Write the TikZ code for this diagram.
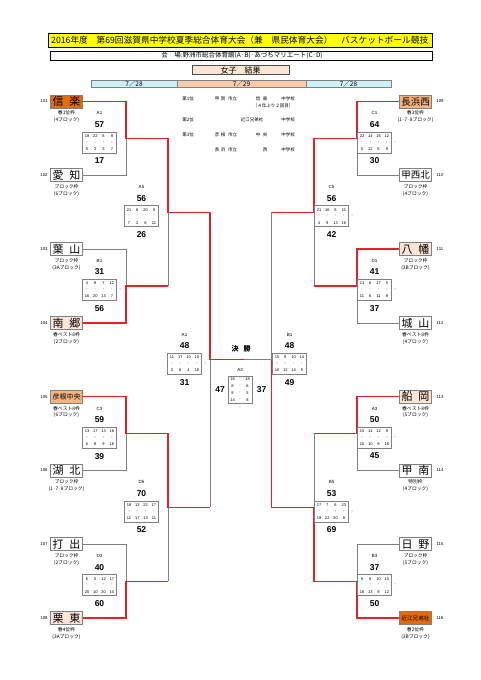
\documentclass[tikz,border=0pt]{standalone}
\usepackage{fontspec}
\setmainfont{Noto Sans CJK JP}
\newfontfamily\numfont{Liberation Sans}
\definecolor{hdryellow}{RGB}{255,255,0}
\definecolor{darkor}{RGB}{226,107,10}
\definecolor{midor}{RGB}{247,180,128}
\definecolor{paleor}{RGB}{252,228,214}
\definecolor{datecyan}{RGB}{204,240,248}
\definecolor{dateor}{RGB}{248,203,173}
\definecolor{lnred}{RGB}{228,32,40}
\definecolor{lngray}{RGB}{128,128,128}
\tikzset{
  tb/.style={draw=lngray, line width=0.9pt, minimum width=32pt, minimum height=13pt, inner sep=0pt, font=\fontsize{11}{11}\selectfont},
  lbl/.style={font=\fontsize{4.5}{5}\selectfont\numfont, inner sep=0pt},
  score/.style={font=\fontsize{8.5}{9}\selectfont\numfont\bfseries, inner sep=0pt},
  qnum/.style={font=\fontsize{4}{4}\selectfont\numfont, inner sep=0pt},
  subl/.style={font=\fontsize{4.8}{5}\selectfont, inner sep=0pt},
  tnum/.style={font=\fontsize{4.3}{5}\selectfont\numfont, inner sep=0pt},
  rk/.style={font=\fontsize{4.5}{5}\selectfont, inner sep=0pt},
  gl/.style={draw=lngray, line width=0.8pt},
  rl/.style={draw=lnred, line width=1.3pt},
  qbox/.style={draw=lngray, line width=0.5pt},
  datecell/.style={draw=lngray, line width=0.5pt, minimum height=7.3pt, inner sep=0pt, font=\fontsize{6.5}{7}\selectfont}
}
\newcommand\team[9]{%
  \node[tb, fill=#4] (#1) at (#2,#3) {#5};
  \node[tnum] (#1-n) at (#7,#3) {#6};
  \node[subl] (#1-s1) at (#2,#3+11.5) {#8};
  \node[subl] (#1-s2) at (#2,#3+18.7) {#9};
}
\newcommand\mblock[8]{%
  \node[lbl] (#1-l) at (#2,#3-25) {#4};
  \node[score] (#1-t) at (#2,#3-14) {#5};
  \node[score] (#1-b) at (#2,#3+22.5) {#6};
  \draw[qbox] (#2-17,#3-6.5) rectangle (#2+17,#3+14.5);
  \foreach \v [count=\i] in {#7} {\node[qnum] (#1-q\i) at ({#2-17+4.5+8.3*(\i-1)},#3-2.5) {\v};}
  \foreach \v [count=\i] in {#8} {\node[qnum] (#1-r\i) at ({#2-17+4.5+8.3*(\i-1)},#3+10.5) {\v};}
  \foreach \i in {1,...,5} {\node[qnum] (#1-d\i) at ({#2-17+4.5+8.3*(\i-1)},#3+4) {-};}
}
\begin{document}
\begin{tikzpicture}[x=1pt,y=-1pt]
\fill[white] (0,0) rectangle (481,680);
\useasboundingbox (0,0) rectangle (481,680);

% header
\node[draw=black, fill=hdryellow, line width=0.8pt, minimum width=384pt, minimum height=14pt, inner sep=0pt] (hdr) at (240.5,40) {};
\node[anchor=west, inner sep=0pt] (hdrt) at (51,40) {\resizebox{377pt}{!}{2016年度　第69回滋賀県中学校夏季総合体育大会（兼　県民体育大会）　バスケットボール競技}};
\node[draw=black, fill=white, line width=0.6pt, minimum width=382pt, minimum height=9pt, inner sep=0pt] (venue) at (241,55.5) {};
\node[inner sep=0pt, font=\fontsize{6.5}{7}\selectfont] (venuet) at (242,55.5) {会　場:野洲市総合体育館(A·B)·あづちマリエート(C·D)};
\node[draw=lngray!60!black, fill=paleor, line width=0.6pt, minimum width=97pt, minimum height=8.5pt, inner sep=0pt, font=\fontsize{8}{8}\selectfont] (kekka) at (240.5,70) {女子　結果};
\node[datecell, fill=datecyan, minimum width=86pt] (d1) at (134,83.6) {7／28};
\node[datecell, fill=dateor, minimum width=129pt] (d2) at (241.5,83.6) {7／29};
\node[datecell, fill=datecyan, minimum width=85pt] (d3) at (348.5,83.6) {7／28};

% rankings
\node[rk] (r1a) at (188,99) {第1位};
\node[rk] (r1b) at (220,99) {甲\hspace{1.5pt}賀};
\node[rk] (r1c) at (232.5,99) {市立};
\node[rk] (r1d) at (261.5,99) {信\hspace{2.5pt}楽};
\node[rk] (r1e) at (288,99) {中学校};
\node[rk] (r1f) at (273,106) {（４年ぶり２回目）};
\node[rk] (r2a) at (188,120) {第2位};
\node[rk] (r2b) at (252,120) {近江兄弟社};
\node[rk] (r2e) at (288,120) {中学校};
\node[rk] (r3a) at (188,135) {第3位};
\node[rk] (r3b) at (220,135) {彦\hspace{1.5pt}根};
\node[rk] (r3c) at (232.5,135) {市立};
\node[rk] (r3d) at (261.5,135) {中\hspace{2.5pt}央};
\node[rk] (r3e) at (288,135) {中学校};
\node[rk] (r4b) at (220,150) {長\hspace{1.5pt}浜};
\node[rk] (r4c) at (232.5,150) {市立};
\node[rk] (r4d) at (265,150) {西};
\node[rk] (r4e) at (288,150) {中学校};

% teams left
\team{t101}{66.5}{101.5}{darkor}{信\hspace{6pt}楽}{101}{44}{春1位枠}{(4ブロック)}
\team{t102}{66.5}{175.3}{white}{愛\hspace{6pt}知}{102}{44}{ブロック枠}{(6ブロック)}
\team{t103}{66.5}{249.1}{white}{葉\hspace{6pt}山}{103}{44}{ブロック枠}{(3Aブロック)}
\team{t104}{66.5}{322.9}{paleor}{南\hspace{6pt}郷}{104}{44}{春ベスト8枠}{(2ブロック)}
\team{t105}{66.5}{396.7}{midor}{\fontsize{7}{7}\selectfont 彦根中央}{105}{44}{春ベスト8枠}{(6ブロック)}
\team{t106}{66.5}{470.5}{white}{湖\hspace{6pt}北}{106}{44}{ブロック枠}{(1·7·8ブロック)}
\team{t107}{66.5}{544.3}{white}{打\hspace{6pt}出}{107}{44}{ブロック枠}{(2ブロック)}
\team{t108}{66.5}{618.1}{paleor}{栗\hspace{6pt}東}{108}{44}{春4位枠}{(3Aブロック)}
% teams right
\team{t109}{415.5}{101.5}{midor}{\fontsize{9.5}{10}\selectfont 長浜西}{109}{440}{春3位枠}{(1·7·8ブロック)}
\team{t110}{415.5}{175.3}{white}{\fontsize{9.5}{10}\selectfont 甲西北}{110}{440}{ブロック枠}{(4ブロック)}
\team{t111}{415.5}{249.1}{paleor}{八\hspace{6pt}幡}{111}{440}{ブロック枠}{(3Bブロック)}
\team{t112}{415.5}{322.9}{white}{城\hspace{6pt}山}{112}{440}{春ベスト8枠}{(4ブロック)}
\team{t113}{415.5}{396.7}{paleor}{船\hspace{6pt}岡}{113}{440}{春ベスト8枠}{(5ブロック)}
\team{t114}{415.5}{470.5}{white}{甲\hspace{6pt}南}{114}{440}{特別枠}{(4ブロック)}
\team{t115}{415.5}{544.3}{white}{日\hspace{6pt}野}{115}{440}{ブロック枠}{(5ブロック)}
\team{t116}{415.5}{618.1}{darkor}{\fontsize{5.6}{6}\selectfont 近江兄弟社}{116}{440}{春2位枠}{(3Bブロック)}

% junctions
\coordinate (ja1) at (126,138.4); \coordinate (ja1o) at (168,138.4);
\coordinate (jb1) at (126,286); \coordinate (jb1o) at (168,286);
\coordinate (jc3) at (126,433.6); \coordinate (jc3o) at (168,433.6);
\coordinate (jd3) at (126,581.2); \coordinate (jd3o) at (168,581.2);
\coordinate (ja5) at (168,212.2); \coordinate (ja5o) at (210,212.2);
\coordinate (jd5) at (168,507.4); \coordinate (jd5o) at (210,507.4);
\coordinate (jfl) at (210,359.8); \coordinate (jfm) at (244,359.8); \coordinate (jfr) at (271.5,359.8);
\coordinate (jc1) at (357,138.4); \coordinate (jc1o) at (314,138.4);
\coordinate (jd1) at (357,286); \coordinate (jd1o) at (314,286);
\coordinate (ja3) at (357,433.6); \coordinate (ja3o) at (314,433.6);
\coordinate (jb3) at (357,581.2); \coordinate (jb3o) at (314,581.2);
\coordinate (jc5) at (314,212.2); \coordinate (jc5o) at (271.5,212.2);
\coordinate (jb5) at (314,507.4); \coordinate (jb5o) at (271.5,507.4);

% gray connectors
\draw[gl] (t102.east) -| (ja1);
\draw[gl] (t103.east) -| (jb1);
\draw[gl] (t106.east) -| (jc3);
\draw[gl] (t107.east) -| (jd3);
\draw[gl] (jb1o) -- (ja5);
\draw[gl] (jd3o) -- (jd5);
\draw[gl] (jd5o) -- (jfl);
\draw[gl] (jfm) -- (jfr);
\draw[gl] (t110.west) -| (jc1);
\draw[gl] (t112.west) -| (jd1);
\draw[gl] (t114.west) -| (ja3);
\draw[gl] (t115.west) -| (jb3);
\draw[gl] (jd1o) -- (jc5);
\draw[gl] (ja3o) -- (jb5);
\draw[gl] (jc5o) -- (jfr);
% red connectors
\draw[rl] (t101.east) -| (ja1) -- (ja1o) -- (ja5) -- (ja5o) -- (jfl) -- (jfm);
\draw[rl] (t104.east) -| (jb1) -- (jb1o);
\draw[rl] (t105.east) -| (jc3) -- (jc3o) -- (jd5) -- (jd5o);
\draw[rl] (t108.east) -| (jd3) -- (jd3o);
\draw[rl] (t109.west) -| (jc1) -- (jc1o) -- (jc5) -- (jc5o);
\draw[rl] (t111.west) -| (jd1) -- (jd1o);
\draw[rl] (t113.west) -| (ja3) -- (ja3o);
\draw[rl] (t116.west) -| (jb3) -- (jb3o) -- (jb5) -- (jb5o) -- (jfr);

% match blocks
\mblock{mA1}{99.5}{138.4}{A1}{57}{17}{18,22,8,9}{5,2,3,7}
\mblock{mB1}{99.5}{286}{B1}{31}{56}{4,8,7,12}{16,20,13,7}
\mblock{mC3}{99.5}{433.6}{C3}{59}{39}{13,17,13,16}{6,8,9,16}
\mblock{mD3}{99.5}{581.2}{D3}{40}{60}{6,5,12,17}{20,10,20,10}
\mblock{mA5}{141.5}{212.2}{A5}{56}{26}{21,6,20,9}{7,2,6,11}
\mblock{mD5}{141.5}{507.4}{D5}{70}{52}{18,13,22,17}{11,17,13,11}
\mblock{mSL}{184.5}{359.8}{A1}{48}{31}{11,17,10,10}{3,6,4,18}
\mblock{mC1}{374.5}{138.4}{C1}{64}{30}{22,14,16,12}{5,12,5,8}
\mblock{mD1}{374.5}{286}{D1}{41}{37}{13,6,17,5}{11,6,11,9}
\mblock{mA3}{374.5}{433.6}{A3}{50}{45}{15,14,12,9}{10,10,9,16}
\mblock{mB3}{374.5}{581.2}{B3}{37}{50}{9,8,10,10}{16,13,9,12}
\mblock{mC5}{331.5}{212.2}{C5}{56}{42}{21,16,8,11}{4,9,13,16}
\mblock{mB5}{331.5}{507.4}{B5}{53}{69}{17,7,6,23}{19,22,20,8}
\mblock{mSR}{289.5}{359.8}{B1}{48}{49}{15,9,10,14}{18,12,14,5}

% final
\node[inner sep=0pt, font=\fontsize{7}{7}\selectfont\bfseries] (kessho) at (241,349) {決\hspace{5pt}勝};
\node[lbl] (fl) at (240,370) {A3};
\draw[qbox] (228,376.5) rectangle (252,403.5);
\foreach \a/\b [count=\i] in {16/18,8/6,9/5,14/8} {
  \node[qnum] (fa\i) at (232.5,372+7*\i) {\a};
  \node[qnum] (fd\i) at (240,372+7*\i) {-};
  \node[qnum] (fb\i) at (247.5,372+7*\i) {\b};
}
\node[qnum] (fdash) at (240,407.5) {-};
\node[score] (fsl) at (220,389.5) {47};
\node[score] (fsr) at (261.5,389.5) {37};
\end{tikzpicture}
\end{document}
